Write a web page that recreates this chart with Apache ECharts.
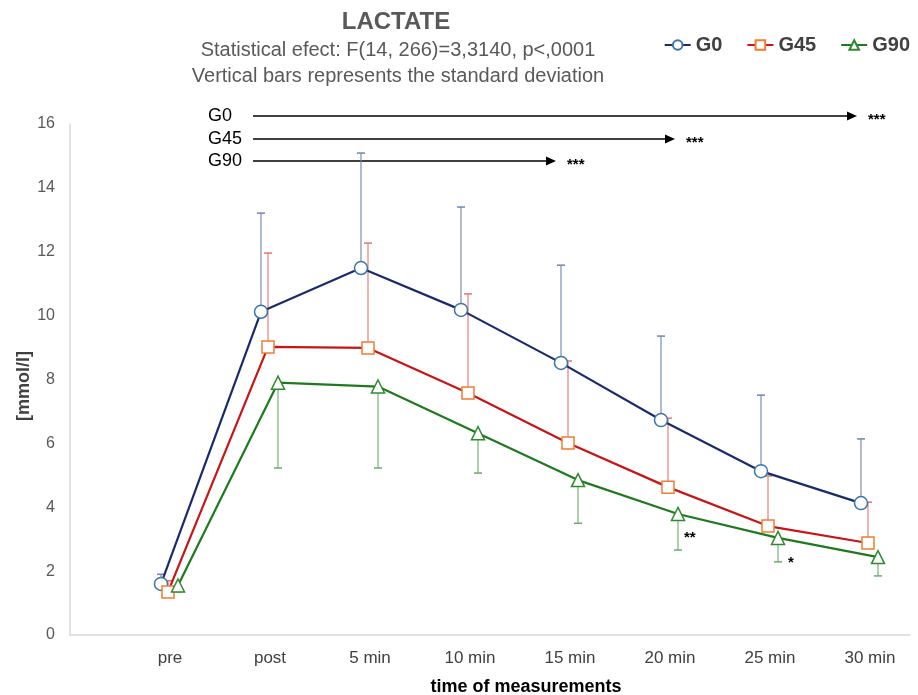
<!DOCTYPE html>
<html><head><meta charset="utf-8">
<script src="https://cdn.jsdelivr.net/npm/echarts@6/dist/echarts.min.js"></script>
<style>html,body{margin:0;padding:0;background:#fff}#c{width:918px;height:695px}</style>
</head><body><div id="c"></div>
<script>
// ---- data ----
const categories = ['pre', 'post', '5 min', '10 min', '15 min', '20 min', '25 min', '30 min'];
const g0Mean  = [1.60, 10.12, 11.49, 10.18, 8.52, 6.73, 5.13, 4.13];
const g0Sd    = [0.30, 3.09, 3.60, 3.22, 3.06, 2.63, 2.38, 2.01];
const g45Mean = [1.35, 9.02, 8.99, 7.58, 6.01, 4.63, 3.41, 2.88];
const g45Sd   = [0.35, 2.94, 3.28, 3.10, 2.57, 2.16, 1.57, 1.28];
const g90Mean = [1.55, 7.90, 7.78, 6.32, 4.85, 3.79, 3.04, 2.44];
const g90Sd   = [0.20, 2.67, 2.55, 1.25, 1.35, 1.13, 0.75, 0.59];
const yTicks  = [0, 2, 4, 6, 8, 10, 12, 14, 16];
// significance arrows (category positions)
const sigGroups = ['G0', 'G45', 'G90'];
const sigStart  = 0.83;
const sigEnd    = [6.87, 5.05, 3.86];
const sigText   = ['***', '***', '***'];
const starNotes = [{ text: '**', x: 5.14, y: 3.05 }, { text: '*', x: 6.18, y: 2.27 }];

const FONT = 'Liberation Sans, Arial, sans-serif';
const chart = echarts.init(document.getElementById('c'));

function errSeries(name, means, sds, dir, offset, color) {
  return {
    type: 'custom', name: name + ' sd', z: 1, silent: true,
    data: means.map((m, i) => [i + offset, m, m + dir * sds[i]]),
    encode: { x: 0, y: [1, 2] },
    renderItem: function (params, api) {
      const p0 = api.coord([api.value(0), api.value(1)]);
      const p1 = api.coord([api.value(0), api.value(2)]);
      const w = 4;
      return { type: 'group', children: [
        { type: 'line', shape: { x1: p0[0], y1: p0[1], x2: p1[0], y2: p1[1] }, style: { stroke: color, lineWidth: 1.1 } },
        { type: 'line', shape: { x1: p1[0] - w, y1: p1[1], x2: p1[0] + w, y2: p1[1] }, style: { stroke: color, lineWidth: 1.5 } }
      ]};
    }
  };
}
function lineSeries(name, means, offset, lineColor, markColor, symbol) {
  return {
    type: 'line', name: name, z: 3,
    data: means.map((m, i) => [i + offset, m]),
    symbol: symbol, symbolSize: symbol === 'rect' ? 12 : 13, showAllSymbol: true,
    lineStyle: { color: lineColor, width: 2.2 },
    itemStyle: { color: '#fff', borderColor: markColor, borderWidth: 1.5 },
    emphasis: { disabled: true }
  };
}

chart.setOption({
  animation: false,
  backgroundColor: '#fff',
  title: [
    { text: 'LACTATE', left: 391, top: 5, textAlign: 'center',
      textStyle: { fontFamily: FONT, fontSize: 24, fontWeight: 'bold', color: '#595959' } },
    { text: 'Statistical efect: F(14, 266)=3,3140, p<,0001\nVertical bars represents the standard deviation',
      left: 393, top: 32, textAlign: 'center',
      textStyle: { fontFamily: FONT, fontSize: 20, fontWeight: 'normal', color: '#595959', lineHeight: 26 } }
  ],
  legend: {
    data: ['G0', 'G45', 'G90'], right: 3, top: 30, itemWidth: 26, itemHeight: 12, itemGap: 24,
    textStyle: { fontFamily: FONT, fontSize: 20, fontWeight: 'bold', color: '#404040' }
  },
  grid: { left: 70, right: 8, top: 124, bottom: 60 },
  xAxis: {
    type: 'value', min: -1, max: 7.4, interval: 1,
    axisLine: { show: true, onZero: false, lineStyle: { color: '#d9d9d9', width: 1.5 } },
    axisTick: { show: false }, splitLine: { show: false },
    axisLabel: {
      show: true, margin: 15, showMaxLabel: false, showMinLabel: false,
      fontFamily: FONT, fontSize: 17, color: '#404040',
      formatter: v => (Number.isInteger(v) && v >= 0 && v < categories.length) ? categories[v] : ''
    }
  },
  yAxis: {
    type: 'value', min: yTicks[0], max: yTicks[yTicks.length - 1], interval: 2,
    axisLine: { show: true, onZero: false, lineStyle: { color: '#d9d9d9', width: 1.5 } },
    axisTick: { show: false }, splitLine: { show: false },
    axisLabel: { margin: 15, fontFamily: FONT, fontSize: 16, color: '#595959' }
  },
  series: [
    errSeries('G0', g0Mean, g0Sd, 1, -0.09, '#6b84b8'),
    errSeries('G45', g45Mean, g45Sd, 1, -0.02, '#e8736c'),
    errSeries('G90', g90Mean, g90Sd, -1, 0.08, '#6aaa6a'),
    lineSeries('G0', g0Mean, -0.09, '#1a2a6c', '#3d74a8', 'circle'),
    lineSeries('G45', g45Mean, -0.02, '#c81414', '#ef7d33', 'rect'),
    lineSeries('G90', g90Mean, 0.08, '#1e7a1e', '#2e8a2e', 'triangle')
  ]
});

// ---- annotations ----
const arrowY = [116, 139, 161];
const gfx = [];
sigGroups.forEach((g, k) => {
  const x0 = chart.convertToPixel({ xAxisIndex: 0 }, sigStart);
  const x1 = chart.convertToPixel({ xAxisIndex: 0 }, sigEnd[k]);
  const y = arrowY[k];
  gfx.push({ type: 'text', x: 208, y: y,
    style: { text: g, font: '18px ' + FONT, fill: '#000', textVerticalAlign: 'middle' } });
  gfx.push({ type: 'line', shape: { x1: x0, y1: y, x2: x1 - 8, y2: y }, style: { stroke: '#000', lineWidth: 1.5 } });
  gfx.push({ type: 'polygon', shape: { points: [[x1, y], [x1 - 10, y - 4.5], [x1 - 10, y + 4.5]] }, style: { fill: '#000' } });
  gfx.push({ type: 'text', x: x1 + 11, y: y + 4, style: { text: sigText[k], font: 'bold 15px ' + FONT, fill: '#000', textVerticalAlign: 'middle' } });
});
starNotes.forEach(s => {
  const p = chart.convertToPixel({ xAxisIndex: 0, yAxisIndex: 0 }, [s.x, s.y]);
  gfx.push({ type: 'text', x: p[0], y: p[1], style: { text: s.text, font: 'bold 15px ' + FONT, fill: '#000', textVerticalAlign: 'middle' } });
});
gfx.push({ type: 'text', x: 526, y: 687,
  style: { text: 'time of measurements', font: 'bold 18px ' + FONT, fill: '#000', textAlign: 'center', textVerticalAlign: 'middle' } });
gfx.push({ type: 'text', x: 24, y: 386, rotation: Math.PI / 2,
  style: { text: '[mmol/l]', font: 'bold 18px ' + FONT, fill: '#404040', textAlign: 'center', textVerticalAlign: 'middle' } });
chart.setOption({ graphic: gfx });
</script>
</body></html>
